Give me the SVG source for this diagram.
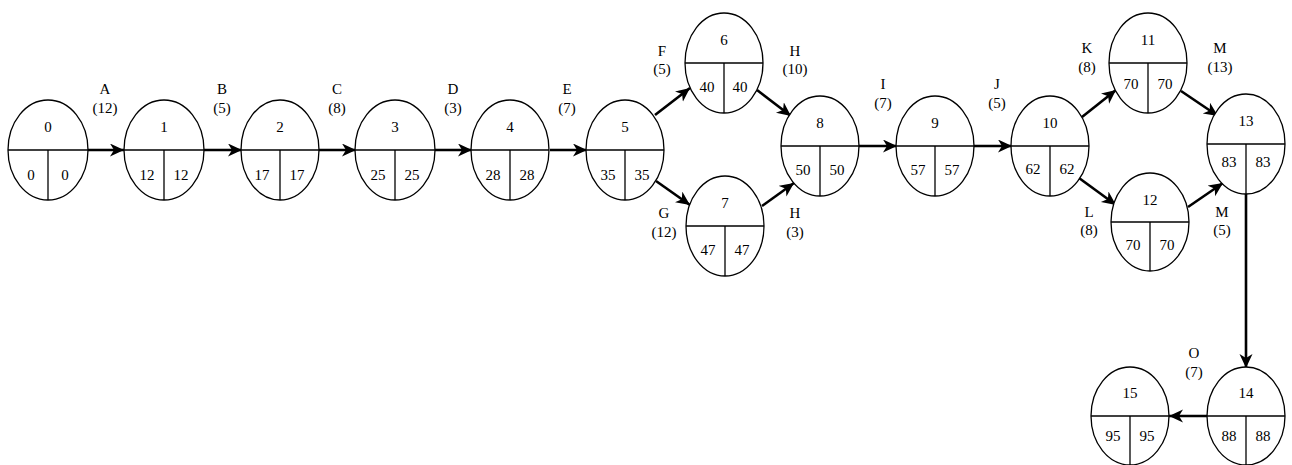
<svg xmlns="http://www.w3.org/2000/svg" width="1292" height="465" viewBox="0 0 1292 465">
<style>
.n ellipse{fill:#fff;stroke:#000;stroke-width:1.3}
.n line{stroke:#000;stroke-width:1.3}
text{font-family:"Liberation Serif","Times New Roman",serif;font-size:15px;fill:#000;text-anchor:middle}
.c line{stroke:#000;stroke-width:2.6;marker-end:url(#ah)}
</style>
<defs>
<marker id="ah" markerUnits="userSpaceOnUse" markerWidth="16" markerHeight="14" refX="14" refY="6.5" orient="auto" viewBox="0 0 16 14">
<path d="M0,0 L14,6.5 L0,13 L4,6.5 z" fill="#000"/>
</marker>
</defs>
<rect width="1292" height="465" fill="#fff"/>
<g class="c" id="connectors">
<line x1="88" y1="150" x2="124" y2="150"/>
<line x1="204" y1="150" x2="242" y2="150"/>
<line x1="319" y1="150" x2="356" y2="150"/>
<line x1="435" y1="150" x2="472" y2="150"/>
<line x1="550" y1="150" x2="587" y2="150"/>
<line x1="655" y1="115" x2="690" y2="88"/>
<line x1="656" y1="181" x2="690" y2="205"/>
<line x1="757" y1="90" x2="791" y2="116"/>
<line x1="762" y1="206" x2="794" y2="183"/>
<line x1="859" y1="146" x2="897" y2="146"/>
<line x1="974" y1="146" x2="1012" y2="146"/>
<line x1="1082" y1="117" x2="1116" y2="90"/>
<line x1="1079" y1="178" x2="1116" y2="205"/>
<line x1="1181" y1="91" x2="1218" y2="116"/>
<line x1="1188" y1="207" x2="1223" y2="183"/>
<line x1="1246" y1="193" x2="1246" y2="368"/>
<line x1="1207" y1="416" x2="1169" y2="416"/>
</g>
<g id="edge-labels">
<text x="105" y="94">A</text><text x="105" y="113">(12)</text>
<text x="222" y="94">B</text><text x="222" y="113">(5)</text>
<text x="337" y="94">C</text><text x="337" y="113">(8)</text>
<text x="453" y="94">D</text><text x="453" y="113">(3)</text>
<text x="567" y="94">E</text><text x="567" y="113">(7)</text>
<text x="662" y="56">F</text><text x="662" y="74">(5)</text>
<text x="795" y="56">H</text><text x="795" y="74">(10)</text>
<text x="664" y="218">G</text><text x="664" y="237">(12)</text>
<text x="795" y="218">H</text><text x="795" y="237">(3)</text>
<text x="883" y="89">I</text><text x="883" y="108">(7)</text>
<text x="997" y="89">J</text><text x="997" y="108">(5)</text>
<text x="1087" y="53">K</text><text x="1087" y="72">(8)</text>
<text x="1220" y="53">M</text><text x="1220" y="72">(13)</text>
<text x="1089" y="217">L</text><text x="1089" y="235">(8)</text>
<text x="1222" y="217">M</text><text x="1222" y="235">(5)</text>
<text x="1194" y="358">O</text><text x="1194" y="377">(7)</text>
</g>
<g class="n" id="node-0"><ellipse cx="48" cy="150" rx="40" ry="50"/><line x1="8" y1="150" x2="88" y2="150"/><line x1="48" y1="150" x2="48" y2="200"/><text x="48" y="132">0</text><text x="31" y="180">0</text><text x="65" y="180">0</text></g>
<g class="n" id="node-1"><ellipse cx="164" cy="150" rx="40" ry="50"/><line x1="124" y1="150" x2="204" y2="150"/><line x1="164" y1="150" x2="164" y2="200"/><text x="164" y="132">1</text><text x="147" y="180">12</text><text x="181" y="180">12</text></g>
<g class="n" id="node-2"><ellipse cx="280" cy="150" rx="39" ry="50"/><line x1="241" y1="150" x2="319" y2="150"/><line x1="280" y1="150" x2="280" y2="200"/><text x="280" y="132">2</text><text x="262" y="180">17</text><text x="297" y="180">17</text></g>
<g class="n" id="node-3"><ellipse cx="395" cy="150" rx="40" ry="50"/><line x1="355" y1="150" x2="435" y2="150"/><line x1="395" y1="150" x2="395" y2="200"/><text x="395" y="132">3</text><text x="378" y="180">25</text><text x="412" y="180">25</text></g>
<g class="n" id="node-4"><ellipse cx="510" cy="150" rx="39" ry="50"/><line x1="471" y1="150" x2="549" y2="150"/><line x1="510" y1="150" x2="510" y2="200"/><text x="510" y="132">4</text><text x="493" y="180">28</text><text x="527" y="180">28</text></g>
<g class="n" id="node-5"><ellipse cx="625" cy="150" rx="39" ry="50"/><line x1="586" y1="150" x2="664" y2="150"/><line x1="625" y1="150" x2="625" y2="200"/><text x="625" y="132">5</text><text x="608" y="180">35</text><text x="642" y="180">35</text></g>
<g class="n" id="node-6"><ellipse cx="724" cy="63" rx="39" ry="50"/><line x1="685" y1="63" x2="763" y2="63"/><line x1="724" y1="63" x2="724" y2="113"/><text x="724" y="45">6</text><text x="707" y="92">40</text><text x="740" y="92">40</text></g>
<g class="n" id="node-7"><ellipse cx="725" cy="226" rx="39" ry="50"/><line x1="686" y1="226" x2="764" y2="226"/><line x1="725" y1="226" x2="725" y2="276"/><text x="725" y="208">7</text><text x="708" y="255">47</text><text x="742" y="255">47</text></g>
<g class="n" id="node-8"><ellipse cx="820" cy="146" rx="39" ry="50"/><line x1="781" y1="146" x2="859" y2="146"/><line x1="820" y1="146" x2="820" y2="196"/><text x="820" y="128">8</text><text x="803" y="175">50</text><text x="837" y="175">50</text></g>
<g class="n" id="node-9"><ellipse cx="935" cy="146" rx="39" ry="50"/><line x1="896" y1="146" x2="974" y2="146"/><line x1="935" y1="146" x2="935" y2="196"/><text x="935" y="128">9</text><text x="918" y="175">57</text><text x="952" y="175">57</text></g>
<g class="n" id="node-10"><ellipse cx="1050" cy="146" rx="39" ry="50"/><line x1="1011" y1="146" x2="1089" y2="146"/><line x1="1050" y1="146" x2="1050" y2="196"/><text x="1050" y="128">10</text><text x="1033" y="174">62</text><text x="1067" y="174">62</text></g>
<g class="n" id="node-11"><ellipse cx="1148" cy="63" rx="39" ry="50"/><line x1="1109" y1="63" x2="1187" y2="63"/><line x1="1148" y1="63" x2="1148" y2="113"/><text x="1148" y="45">11</text><text x="1131" y="89">70</text><text x="1165" y="89">70</text></g>
<g class="n" id="node-12"><ellipse cx="1150" cy="222" rx="39" ry="49"/><line x1="1111" y1="222" x2="1189" y2="222"/><line x1="1150" y1="222" x2="1150" y2="271"/><text x="1150" y="205">12</text><text x="1133" y="250">70</text><text x="1167" y="250">70</text></g>
<g class="n" id="node-13"><ellipse cx="1246" cy="144" rx="39" ry="50"/><line x1="1207" y1="144" x2="1285" y2="144"/><line x1="1246" y1="144" x2="1246" y2="194"/><text x="1246" y="126">13</text><text x="1229" y="167">83</text><text x="1263" y="167">83</text></g>
<g class="n" id="node-14"><ellipse cx="1246" cy="416" rx="39" ry="49"/><line x1="1207" y1="416" x2="1285" y2="416"/><line x1="1246" y1="416" x2="1246" y2="466"/><text x="1246" y="398">14</text><text x="1229" y="441">88</text><text x="1263" y="441">88</text></g>
<g class="n" id="node-15"><ellipse cx="1130" cy="416" rx="39" ry="49"/><line x1="1091" y1="416" x2="1169" y2="416"/><line x1="1130" y1="416" x2="1130" y2="466"/><text x="1130" y="398">15</text><text x="1113" y="441">95</text><text x="1147" y="441">95</text></g>
</svg>
